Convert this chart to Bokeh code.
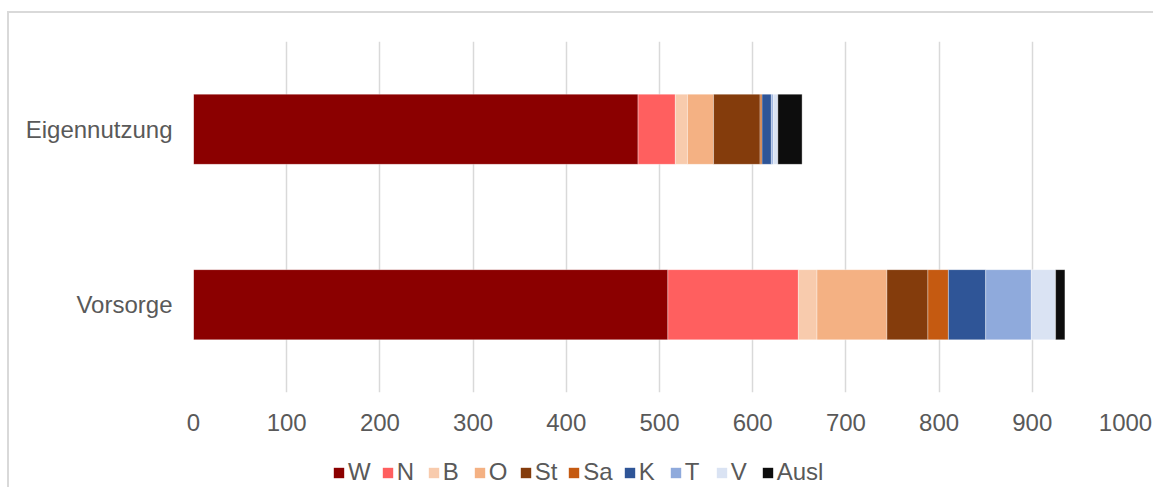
from bokeh.plotting import figure
from bokeh.layouts import column
from bokeh.models import (FactorRange, Range1d, SingleIntervalTicker, Legend,
                          LegendItem)
from bokeh.embed import file_html
from bokeh.resources import INLINE

# ---- data ----
categories = ["Eigennutzung", "Vorsorge"]
series = ["W", "N", "B", "O", "St", "Sa", "K", "T", "V", "Ausl"]
W = [477, 509]
N = [40, 140]
B = [13, 20]
O = [28, 75]
St = [50, 44]
Sa = [2, 22]
K = [10, 40]
T = [2, 49]
V = [5, 26]
Ausl = [26, 10]
x_ticks = [0, 100, 200, 300, 400, 500, 600, 700, 800, 900, 1000]

colors = ["#8B0000", "#FF5F5F", "#F8CBAD", "#F4B183", "#843C0C",
          "#C55A11", "#2F5597", "#8FAADC", "#DAE3F3", "#0D0D0D"]

source = dict(cat=categories, W=W, N=N, B=B, O=O, St=St, Sa=Sa, K=K, T=T,
              V=V, Ausl=Ausl)

FONT = "Liberation Sans"
TXT = "#595959"
GRID = "#D9D9D9"

W_PX = 1153
H_MAIN, H_LEG = 445, 42

p = figure(width=W_PX, height=H_MAIN, output_backend="svg", toolbar_location=None,
           y_range=FactorRange(factors=categories[::-1], range_padding=0),
           x_range=Range1d(x_ticks[0], x_ticks[-1]),
           min_border_left=193, min_border_right=28, min_border_top=41,
           min_border_bottom=H_MAIN - 392)

# chart-area border (left and top edges visible in the reference)
p.styles = {
    "background": ("linear-gradient(#D9D9D9,#D9D9D9) 7px 11px / 2px 100% no-repeat, "
                   "linear-gradient(#D9D9D9,#D9D9D9) 7px 11px / 100% 2px no-repeat, white"),
}

renderers = p.hbar_stack(series, y="cat", height=0.4, color=colors,
                         source=source, line_color="white", line_alpha=0.35,
                         line_width=1)

p.outline_line_color = None
p.background_fill_color = "white"
p.border_fill_color = None

p.xaxis.ticker = SingleIntervalTicker(interval=100)
p.xaxis.axis_line_color = None
p.xaxis.major_tick_line_color = None
p.xaxis.minor_tick_line_color = None
p.xaxis.major_label_text_font = FONT
p.xaxis.major_label_text_font_size = "24px"
p.xaxis.major_label_text_color = TXT
p.xaxis.major_label_standoff = 15

p.yaxis.axis_line_color = None
p.yaxis.major_tick_line_color = None
p.yaxis.minor_tick_line_color = None
p.yaxis.major_label_text_font = FONT
p.yaxis.major_label_text_font_size = "24px"
p.yaxis.major_label_text_color = TXT
p.yaxis.major_label_standoff = 15

p.xgrid.grid_line_color = GRID
p.xgrid.grid_line_width = 1.5
p.xgrid.ticker = SingleIntervalTicker(interval=100)
p.ygrid.grid_line_color = None

# ---- legend strip below the chart (its frame is aligned with the chart's) ----
pl = figure(width=W_PX, height=H_LEG, output_backend="svg", toolbar_location=None,
            x_range=Range1d(-2, -1), y_range=FactorRange(factors=categories),
            min_border_left=0, min_border_right=0, min_border_top=0,
            min_border_bottom=0)
pl.axis.visible = False
pl.grid.grid_line_color = None
pl.outline_line_color = None
pl.background_fill_color = None
pl.border_fill_color = None
pl.styles = {
    "background": "linear-gradient(#D9D9D9,#D9D9D9) 7px 0px / 2px 100% no-repeat, white",
}

# proxy renderers (same data, zero height, out of view) that give the legend its swatches
leg_renderers = pl.hbar_stack(series, y="cat", height=0, fill_color=colors,
                              line_color=None, source=source)

legend = Legend(items=[LegendItem(label=s, renderers=[r]) for s, r in zip(series, leg_renderers)],
                orientation="horizontal", location=(139, 1),
                padding=0, margin=0, spacing=10, label_standoff=3,
                glyph_width=13, glyph_height=13, label_height=26,
                label_text_font=FONT, label_text_font_size="24px",
                label_text_color=TXT, border_line_color=None,
                background_fill_alpha=0)
pl.add_layout(legend, "center")

layout = column(p, pl, spacing=0)
open("out.html", "w").write(file_html(layout, INLINE))
